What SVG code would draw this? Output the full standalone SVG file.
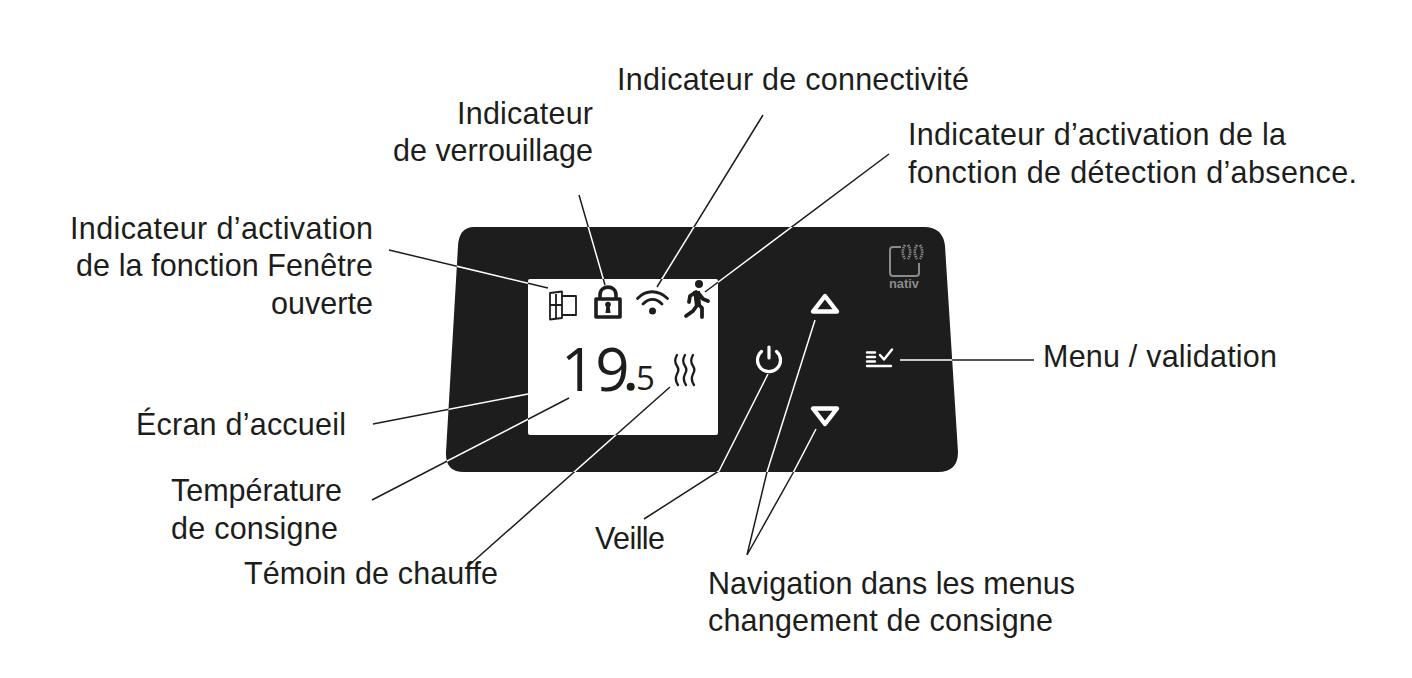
<svg xmlns="http://www.w3.org/2000/svg" width="1412" height="678" viewBox="0 0 1412 678">
<style>
text{font-family:"Liberation Sans",Arial,sans-serif;font-size:30.500px;fill:#1d1d1b}
.ic{fill:none;stroke:#1d1d1b;stroke-linejoin:round;stroke-linecap:round}
.bt{fill:none;stroke:#fff;stroke-width:4.400;stroke-linejoin:round;stroke-linecap:round}
.wave{fill:none;stroke:#8a8a8a;stroke-width:2.600;stroke-dasharray:1.500 .8}
</style>
<defs>
<path id="cl" fill="none" stroke-width="1.500" d="M389 250L548 288M373 424L528 394M372 500L569 398M467 567L670 387M579 195L605 285M763 115L657 287M889 154L705 292M644 519L719 471L768 374M747 555L767 472L815 320M747 555L793 473L816 429M900 360H1034"/>
<clipPath id="panel"><path clip-rule="evenodd" d="M474 227H924Q943 227 945 246L958 452Q958 472 938 472H464Q445 472 446 452L458 246Q459 227 474 227ZM528 279V435H718V279Z"/></clipPath>
</defs>
<rect width="1412" height="678" fill="#fff"/>
<g id="device">
<path d="M474 227H924Q943 227 945 246L958 452Q958 472 938 472H464Q445 472 446 452L458 246Q459 227 474 227Z" fill="#1d1d1d"/>
</g>
<g id="screen">
<rect x="528" y="279" width="190" height="156" rx="2" fill="#fff"/>
<text x="561" y="391" style="font-family:'Open Sans',sans-serif;font-size:60px">19</text>
<circle cx="630.700" cy="386.700" r="4" fill="#1d1d1b"/>
<text x="636" y="390" style="font-family:'Open Sans',sans-serif;font-size:33px">5</text>
</g>
<g id="icon-window" class="ic" style="stroke-width:1.800">
<path d="M550 293L562 291.500V318L550 319.500Z M562 296H576V315H562 M550 305H562 M556 292.500V318.500"/>
</g>
<g id="icon-lock">
<path class="ic" d="M596 299H620V317H596Z" style="stroke-width:3.600"/>
<path class="ic" d="M600 298V295C600 284.500 616 284.500 616 295V298" style="stroke-width:3.600"/>
<circle cx="608" cy="304.500" r="2.800" fill="#1d1d1b"/><path d="M606.500 304H609.500L610.500 313H605.500Z" fill="#1d1d1b"/>
</g>
<g id="icon-wifi" class="ic" style="stroke-width:2.800">
<path d="M637.500 298.500C646 289.500 658 289.500 667.500 298.500M643 304C649 298 656 298 662 304"/>
<circle cx="652.500" cy="311" r="3.500" fill="#1d1d1b" stroke="none"/>
</g>
<g id="icon-person">
<circle cx="699" cy="284" r="4" fill="#1d1d1b"/>
<path d="M696 292L690 296L689 302M696 293L698 304L702 308L702 317M698 304L693 311L686 316M699 294L703 299L708 301" fill="none" stroke="#1d1d1b" stroke-width="3.800" stroke-linecap="round" stroke-linejoin="round"/>
<path d="M693 291H700L701 306H695Z" fill="#1d1d1b"/>
</g>
<g id="icon-heat" class="ic" style="stroke-width:2.300">
<path d="M677 355C674 360 675 363 677 366C679 369 679 371 677 374C675 378 676 382 678 385M685 355C682 360 683 363 685 366C687 369 687 371 685 374C683 378 684 382 686 385M693 355C690 360 691 363 693 366C695 369 695 371 693 374C691 378 692 382 694 385"/>
</g>
<g id="btn-power" class="bt" style="stroke-width:3.200">
<path d="M769 347V358M761.500 351.500A11.500 11.500 0 1 0 776.500 351.500"/>
</g>
<g id="btn-up" class="bt"><path d="M825 296L813 311.500H837Z"/></g>
<g id="btn-down" class="bt"><path d="M825 424L813 408.500H837Z"/></g>
<g id="btn-menu" class="bt" style="stroke-width:2.400">
<path d="M867 352.500H875M867 357H875M867 361.500H875M880 355L884 359.500L892 349.500"/>
<path d="M867 366H891"/>
</g>
<g id="logo">
<path d="M901 247H893Q890 247 890 250V273Q890 276 893 276H916Q919 276 919 273V263" fill="none" stroke="#8a8a8a" stroke-width="2"/>
<path class="wave" d="M905 245C902 250 902 254 905 259M908 245C911 250 911 254 908 259M917 245C914 250 914 254 917 259M920 245C923 250 923 254 920 259"/>
<text x="889" y="288" textLength="30" lengthAdjust="spacingAndGlyphs" style="font-size:12px;font-weight:700;fill:#8a8a8a">nativ</text>
</g>
<g id="connectors">
<use href="#cl" stroke="#1d1d1b"/>
<g clip-path="url(#panel)"><use href="#cl" stroke="#fff"/></g>
</g>
<g id="labels">
<text x="457" y="123.500" textLength="136">Indicateur</text>
<text x="393" y="160.500" textLength="200">de verrouillage</text>
<text x="617" y="89.500" textLength="352">Indicateur de connectivité</text>
<text x="908" y="145" textLength="378">Indicateur d’activation de la</text>
<text x="908" y="182.500" textLength="449">fonction de détection d’absence.</text>
<text x="70" y="238.500" textLength="303">Indicateur d’activation</text>
<text x="76" y="276" textLength="297">de la fonction Fenêtre</text>
<text x="271" y="313.500" textLength="102">ouverte</text>
<text x="136" y="435" textLength="210">Écran d’accueil</text>
<text x="171" y="501" textLength="171">Température</text>
<text x="171" y="538.500" textLength="167">de consigne</text>
<text x="244" y="584" textLength="254">Témoin de chauffe</text>
<text x="595" y="549" textLength="70">Veille</text>
<text x="708" y="594" textLength="367">Navigation dans les menus</text>
<text x="708" y="631" textLength="345">changement de consigne</text>
<text x="1043" y="367" textLength="234">Menu / validation</text>
</g>
</svg>
